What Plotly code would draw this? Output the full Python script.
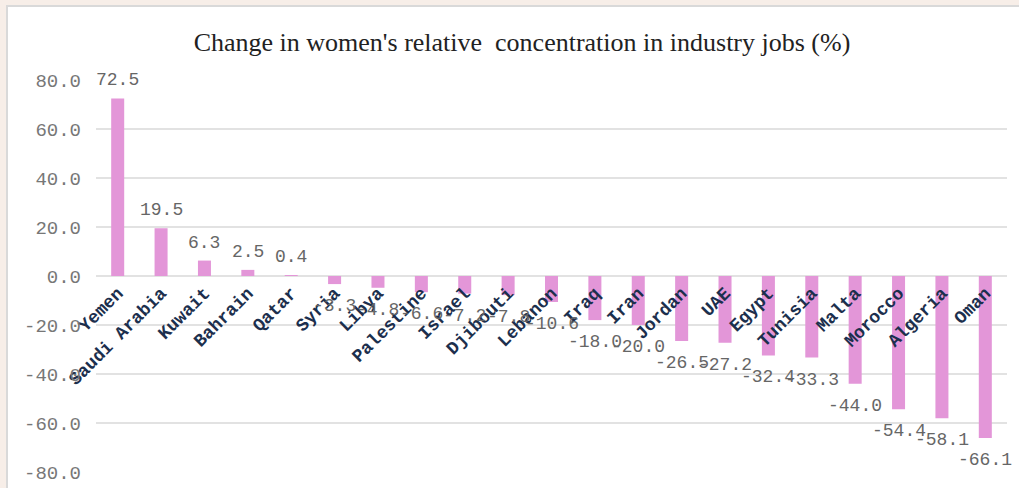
import plotly.graph_objects as go

countries = ["Yemen", "Saudi Arabia", "Kuwait", "Bahrain", "Qatar", "Syria", "Libya",
             "Palestine", "Israel", "Djibouti", "Lebanon", "Iraq", "Iran", "Jordan",
             "UAE", "Egypt", "Tunisia", "Malta", "Morocco", "Algeria", "Oman"]
values = [72.5, 19.5, 6.3, 2.5, 0.4, -3.3, -4.8, -6.6, -7.2, -7.8, -10.6, -18.0,
          -20.0, -26.5, -27.2, -32.4, -33.3, -44.0, -54.4, -58.1, -66.1]
y_ticks = [80, 60, 40, 20, 0, -20, -40, -60, -80]
y_range = [-80, 80]

W, H = 1019, 488
ML, MR, MT, MB = 96, 12, 80, 16
pw, ph = W - ML - MR, H - MT - MB

def px_x(p):
    return (p - ML) / pw

def px_y(p):
    return (H - MB - p) / ph

fig = go.Figure()
fig.add_trace(go.Bar(
    x=countries, y=values,
    marker=dict(color="#e396d8", line=dict(width=0)),
    cliponaxis=False,
))

annotations = []
for c, v in zip(countries, values):
    annotations.append(dict(
        x=c, y=v, xref="x", yref="y", text=f"{v:.1f}", showarrow=False,
        xanchor="center", yanchor="bottom" if v >= 0 else "top",
        yshift=6 if v >= 0 else -10,
        font=dict(family="Liberation Mono", size=18, color="#666666"),
    ))

fig.update_layout(
    width=W, height=H,
    margin=dict(l=ML, r=MR, t=MT, b=MB, autoexpand=False),
    paper_bgcolor="#f7eee8",
    plot_bgcolor="rgba(0,0,0,0)",
    bargap=0.7,
    showlegend=False,
    annotations=annotations,
    title=dict(text="Change in women's relative  concentration in industry jobs (%)",
               x=522 / W, xref="container", xanchor="center",
               y=1 - 42 / H, yref="container", yanchor="middle",
               font=dict(family="Liberation Serif", size=26, color="#222222")),
    xaxis=dict(anchor="free", automargin=False,
               range=[-0.5, len(countries) - 0.5],
               position=(0 - y_range[0]) / (y_range[1] - y_range[0]),
               tickangle=-45, showgrid=False, showline=False, zeroline=False,
               ticks="", ticklabelstandoff=2,
               tickfont=dict(family="Liberation Mono", size=18, color="#1c2f4d",
                             weight="bold")),
    yaxis=dict(range=y_range, tickvals=y_ticks, automargin=False,
               ticktext=[f"{v:.1f}" for v in y_ticks],
               showgrid=True, gridcolor="#e2e2e2", gridwidth=1.5,
               zeroline=False, showline=False, ticks="",
               ticklabelstandoff=14,
               tickfont=dict(family="Liberation Mono", size=19, color="#777777")),
    shapes=[dict(type="rect", xref="paper", yref="paper", layer="below",
                 x0=px_x(7), x1=px_x(1030), y0=px_y(500), y1=px_y(6),
                 fillcolor="#ffffff", line=dict(color="#d9d9d9", width=2))],
)

fig.write_html("out.html")
